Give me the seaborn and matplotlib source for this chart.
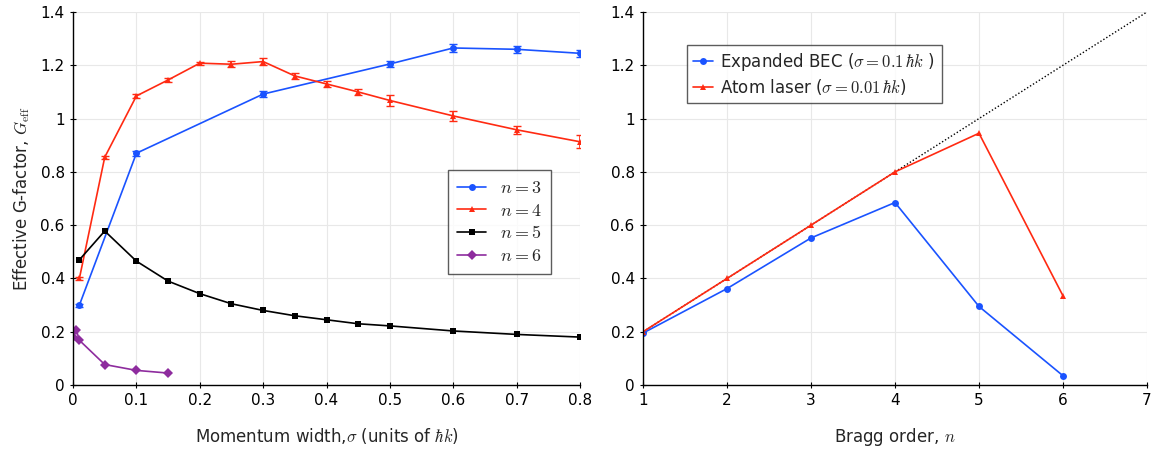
import numpy as np
import pandas as pd
import matplotlib
matplotlib.use("Agg")
import matplotlib.pyplot as plt
import seaborn as sns

# Left panel: G-factor vs momentum width
sig3 = [0.01, 0.1, 0.3, 0.5, 0.6, 0.7, 0.8]
g3 = [0.30, 0.87, 1.092, 1.205, 1.265, 1.26, 1.245]
e3 = [0.006, 0.01, 0.012, 0.01, 0.014, 0.014, 0.014]

sig4 = [0.01, 0.05, 0.1, 0.15, 0.2, 0.25, 0.3, 0.35, 0.4, 0.45, 0.5, 0.6, 0.7, 0.8]
g4 = [0.40, 0.855, 1.085, 1.145, 1.208, 1.204, 1.214, 1.16, 1.13, 1.10, 1.068, 1.01, 0.958, 0.913]
e4 = [0.005, 0.006, 0.008, 0.007, 0.006, 0.012, 0.014, 0.01, 0.01, 0.01, 0.02, 0.02, 0.016, 0.025]

sig5 = [0.01, 0.05, 0.1, 0.15, 0.2, 0.25, 0.3, 0.35, 0.4, 0.45, 0.5, 0.6, 0.7, 0.8]
g5 = [0.47, 0.578, 0.465, 0.39, 0.343, 0.305, 0.28, 0.26, 0.245, 0.23, 0.222, 0.203, 0.19, 0.18]

sig6 = [0.0, 0.005, 0.01, 0.05, 0.1, 0.15]
g6 = [0.18, 0.208, 0.168, 0.077, 0.055, 0.045]

# Right panel: G-factor vs Bragg order
orders = [1, 2, 3, 4, 5, 6]
g_bec = [0.195, 0.362, 0.552, 0.685, 0.295, 0.035]
g_laser = [0.2, 0.4, 0.6, 0.8, 0.945, 0.335]
ideal_n = [1, 7]

blue = "#1a53ff"
red = "#ff2a12"
purple = "#8e2c9e"

sns.set_theme(style="whitegrid")
plt.rcParams["font.family"] = ["DejaVu Sans"]
plt.rcParams["mathtext.fontset"] = "cm"

fig = plt.figure(figsize=(11.54, 4.53), dpi=100)
ax1 = fig.add_axes([0.0633, 0.150, 0.4393, 0.8235])
ax2 = fig.add_axes([0.5572, 0.150, 0.4367, 0.8235])

for ax in (ax1, ax2):
    ax.set_facecolor("white")
    ax.grid(True, color="#e8e8e8", linewidth=0.8)
    for s in ("top", "right"):
        ax.spines[s].set_visible(False)
    for s in ("left", "bottom"):
        ax.spines[s].set_color("black")
        ax.spines[s].set_linewidth(1.0)
    ax.tick_params(direction="inout", length=5, width=0.8, colors="black",
                   labelsize=11, left=True, bottom=True)
    ax.set_ylim(0, 1.4)
    ax.set_yticks([0, 0.2, 0.4, 0.6, 0.8, 1.0, 1.2, 1.4])
    ax.set_yticklabels(["0", "0.2", "0.4", "0.6", "0.8", "1", "1.2", "1.4"])

left = pd.concat([
    pd.DataFrame({"sigma": sig3, "G": g3, "n": "$n = 3$"}),
    pd.DataFrame({"sigma": sig4, "G": g4, "n": "$n = 4$"}),
    pd.DataFrame({"sigma": sig5, "G": g5, "n": "$n = 5$"}),
    pd.DataFrame({"sigma": sig6, "G": g6, "n": "$n = 6$"}),
])
sns.lineplot(data=left, x="sigma", y="G", hue="n", style="n",
             palette=[blue, red, "black", purple],
             markers=["o", "^", "s", "D"], dashes=False, markersize=5,
             markeredgewidth=0, linewidth=1.2, sort=False, ax=ax1)
ax1.errorbar(sig3, g3, yerr=e3, fmt="none", ecolor=blue, elinewidth=1.2, capsize=3)
ax1.errorbar(sig4, g4, yerr=e4, fmt="none", ecolor=red, elinewidth=1.2, capsize=3)

ax1.set_xlim(0, 0.8)
ax1.set_xticks(np.arange(0, 0.81, 0.1))
ax1.set_xticklabels(["0", "0.1", "0.2", "0.3", "0.4", "0.5", "0.6", "0.7", "0.8"])
ax1.set_xlabel(r"Momentum width,$\sigma$ (units of $\hbar k$)", fontsize=12, labelpad=13)
ax1.set_ylabel(r"Effective G-factor, $G_{\rm eff}$", fontsize=12, labelpad=6)
leg1 = ax1.legend(loc="upper left", bbox_to_anchor=(0.722, 0.6), fontsize=13,
                  frameon=True, fancybox=False, edgecolor="#333333",
                  handlelength=1.6, borderpad=0.5, labelspacing=0.25)
leg1.get_frame().set_linewidth(1.0)

ax2.plot(ideal_n, [0.2 * n for n in ideal_n], color="black", linestyle=(0, (1, 1.5)),
         linewidth=1.0, zorder=1)
right = pd.concat([
    pd.DataFrame({"n": orders, "G": g_bec,
                  "src": r"Expanded BEC ($\sigma = 0.1\,\hbar k$ )"}),
    pd.DataFrame({"n": orders, "G": g_laser,
                  "src": r"Atom laser ($\sigma = 0.01\,\hbar k$)"}),
])
sns.lineplot(data=right, x="n", y="G", hue="src", style="src",
             palette=[blue, red], markers=["o", "^"], dashes=False,
             markersize=5, markeredgewidth=0, linewidth=1.2, ax=ax2)
ax2.set_xlim(1, 7)
ax2.set_xticks(range(1, 8))
ax2.set_xlabel(r"Bragg order, $n$", fontsize=12, labelpad=13)
ax2.set_ylabel("")
leg2 = ax2.legend(loc="upper left", bbox_to_anchor=(0.07, 0.935), fontsize=12,
                  frameon=True, fancybox=False, edgecolor="#333333",
                  handlelength=1.2, handletextpad=0.4, borderpad=0.4, labelspacing=0.2)
leg2.get_frame().set_linewidth(1.0)

fig.savefig("out.png", dpi=100)
